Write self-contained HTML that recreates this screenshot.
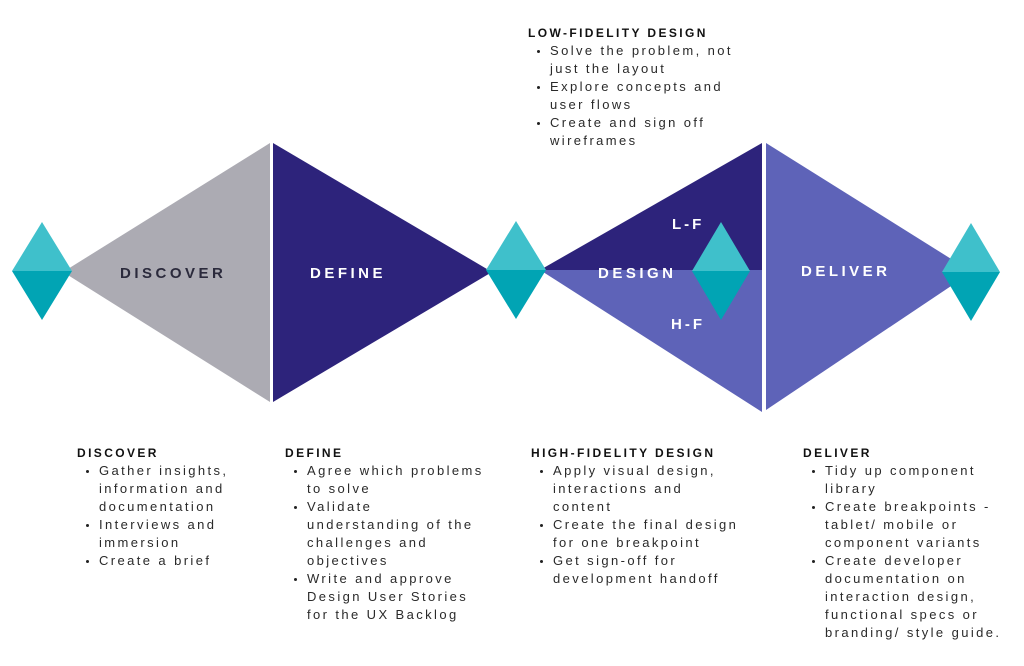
<!DOCTYPE html>
<html><head><meta charset="utf-8"><style>
body{margin:0;width:1024px;height:666px;background:#fff;position:relative;overflow:hidden;font-family:"Liberation Sans",sans-serif;}
.col{position:absolute;color:#2a2a2a;font-size:13px;line-height:18px;letter-spacing:2.4px;white-space:nowrap;}
.col h4{margin:0;font-size:12px;font-weight:bold;letter-spacing:2.4px;color:#111;line-height:18px;}
.col .l{padding-left:22px;position:relative;}
.col .b:before{content:"";position:absolute;left:9px;top:8px;width:3px;height:3px;border-radius:50%;background:#222;}
svg{position:absolute;left:0;top:0;}
</style></head><body>
<svg width="1024" height="666">
<polygon points="63,272 270,143 270,402" fill="#acabb3"/>
<polygon points="273,143 273,402 492,272" fill="#2d237b"/>
<polygon points="540,270 762,143 762,270" fill="#2d237b"/>
<polygon points="540,270 762,270 762,412" fill="#5e63b8"/>
<polygon points="766,143 766,410 972,272" fill="#5e63b8"/>
<g>
<polygon points="12,271 42,222 72,271" fill="#3fc0cb"/><polygon points="12,271 42,320 72,271" fill="#01a4b4"/>
<polygon points="486,270 516,221 546,270" fill="#3fc0cb"/><polygon points="486,270 516,319 546,270" fill="#01a4b4"/>
<polygon points="692,271 721,222 750,271" fill="#3fc0cb"/><polygon points="692,271 721,320 750,271" fill="#01a4b4"/>
<polygon points="942,272 971,223 1000,272" fill="#3fc0cb"/><polygon points="942,272 971,321 1000,272" fill="#01a4b4"/>
</g>
<g font-family="Liberation Sans, sans-serif" font-weight="bold" font-size="15" letter-spacing="3.5">
<text x="120" y="278" fill="#2b2a3c">DISCOVER</text>
<text x="310" y="278" fill="#fff">DEFINE</text>
<text x="598" y="278" fill="#fff">DESIGN</text>
<text x="801" y="276" fill="#fff">DELIVER</text>
<text x="672" y="229" fill="#fff" font-size="15" letter-spacing="3">L-F</text>
<text x="671" y="329" fill="#fff" font-size="15" letter-spacing="3">H-F</text>
</g>
</svg>

<div class="col" style="left:528px;top:24px;">
<h4>LOW-FIDELITY DESIGN</h4>
<div class="l b">Solve the problem, not</div>
<div class="l">just the layout</div>
<div class="l b">Explore concepts and</div>
<div class="l">user flows</div>
<div class="l b">Create and sign off</div>
<div class="l">wireframes</div>
</div>

<div class="col" style="left:77px;top:444px;">
<h4>DISCOVER</h4>
<div class="l b">Gather insights,</div>
<div class="l">information and</div>
<div class="l">documentation</div>
<div class="l b">Interviews and</div>
<div class="l">immersion</div>
<div class="l b">Create a brief</div>
</div>

<div class="col" style="left:285px;top:444px;">
<h4>DEFINE</h4>
<div class="l b">Agree which problems</div>
<div class="l">to solve</div>
<div class="l b">Validate</div>
<div class="l">understanding of the</div>
<div class="l">challenges and</div>
<div class="l">objectives</div>
<div class="l b">Write and approve</div>
<div class="l">Design User Stories</div>
<div class="l">for the UX Backlog</div>
</div>

<div class="col" style="left:531px;top:444px;">
<h4>HIGH-FIDELITY DESIGN</h4>
<div class="l b">Apply visual design,</div>
<div class="l">interactions and</div>
<div class="l">content</div>
<div class="l b">Create the final design</div>
<div class="l">for one breakpoint</div>
<div class="l b">Get sign-off for</div>
<div class="l">development handoff</div>
</div>

<div class="col" style="left:803px;top:444px;">
<h4>DELIVER</h4>
<div class="l b">Tidy up component</div>
<div class="l">library</div>
<div class="l b">Create breakpoints -</div>
<div class="l">tablet/ mobile or</div>
<div class="l">component variants</div>
<div class="l b">Create developer</div>
<div class="l">documentation on</div>
<div class="l">interaction design,</div>
<div class="l">functional specs or</div>
<div class="l">branding/ style guide.</div>
</div>
</body></html>
